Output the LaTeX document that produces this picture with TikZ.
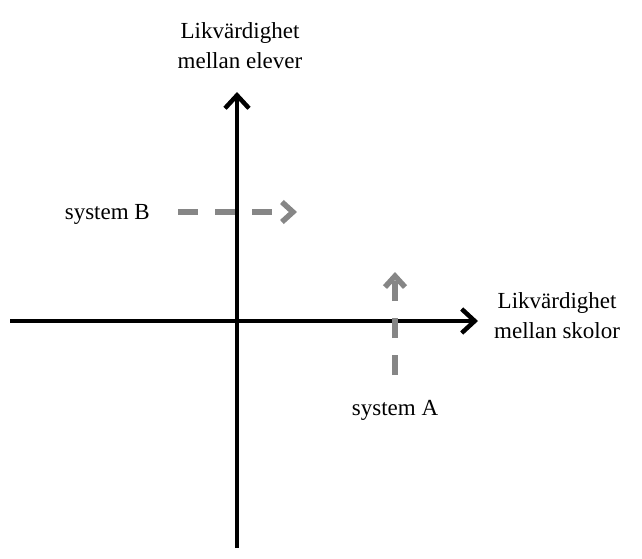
\documentclass[tikz,border=0pt]{standalone}
\usepackage{fontspec}
\setmainfont{Liberation Serif}
\usetikzlibrary{arrows.meta}
\begin{document}
\begin{tikzpicture}[x=1pt,y=-1pt,
  axis/.style={line width=4pt,-{Straight Barb[length=13pt,width=24pt,line width=4.5pt]}},
  sysarrow/.style={line width=6pt,draw=gray!95,dash pattern=on 20pt off 17pt,-{Straight Barb[length=11pt,width=20pt,line width=5.5pt]}},
  lbl/.style={font=\fontsize{23}{27}\selectfont,align=center,inner sep=0pt}]
\useasboundingbox (0,0) rectangle (642,558);
\coordinate (hL) at (10,321);
\coordinate (hR) at (478,321);
\coordinate (vB) at (237,548);
\coordinate (vT) at (237,92);
\coordinate (bS) at (178,212);
\coordinate (bE) at (297,212);
\coordinate (aS) at (395,375);
\coordinate (aE) at (395,272);
\draw[axis] (hL) -- (hR);
\draw[axis] (vB) -- (vT);
\draw[sysarrow] (bS) -- (bE);
\draw[sysarrow] (aS) -- (aE);
\node[lbl] (ty) at (240,46) {Likvärdighet\\[3pt]mellan elever};
\node[lbl,anchor=west] (tx) at (494,316) {Likvärdighet\\[3pt]mellan skolor};
\node[lbl,anchor=east] (sb) at (150,214) {system B};
\node[lbl] (sa) at (395,410) {system A};
\end{tikzpicture}
\end{document}
